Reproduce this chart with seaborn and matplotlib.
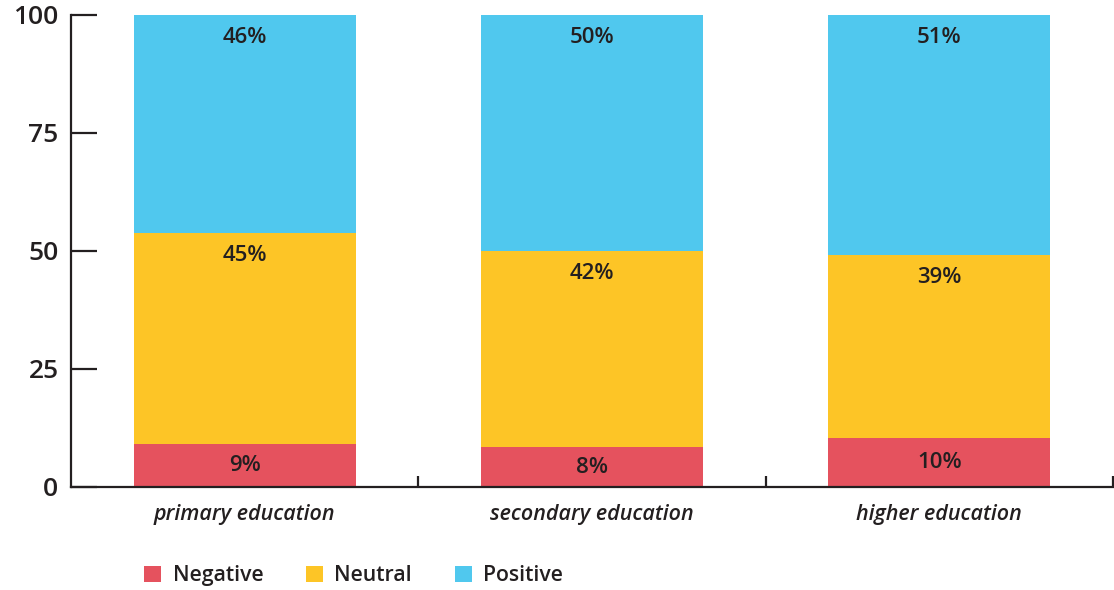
import matplotlib
matplotlib.use("Agg")
import matplotlib.pyplot as plt
from matplotlib.patches import Patch
import seaborn as sns
import pandas as pd

categories = ["primary education", "secondary education", "higher education"]
negative = [9.1, 8.4, 10.3]
neutral = [44.8, 41.6, 38.9]
positive = [46.1, 50.0, 50.8]

series_names = ["Negative", "Neutral", "Positive"]
colors = {"Negative": "#E5525E", "Neutral": "#FDC526", "Positive": "#50C8EE"}
text_color = "#231F20"

sns.set_style("white")
plt.rcParams["font.family"] = ["Open Sans", "DejaVu Sans"]

df = pd.DataFrame({
    "category": categories,
    "Negative": negative,
    "Neutral": neutral,
    "Positive": positive,
})
df["neg_top"] = df["Negative"]
df["neu_top"] = df["Negative"] + df["Neutral"]
df["pos_top"] = df["neu_top"] + df["Positive"]

fig = plt.figure(figsize=(11.14, 5.90), dpi=100)
ax = fig.add_axes([71 / 1114, 1 - 487 / 590, 1042 / 1114, 472 / 590])

# stacked bars: draw cumulative totals, tallest first
for col, name in [("pos_top", "Positive"), ("neu_top", "Neutral"), ("neg_top", "Negative")]:
    sns.barplot(data=df, x="category", y=col, color=colors[name],
                width=0.64, saturation=1, linewidth=0, ax=ax, order=categories)

# segment labels
for i, row in df.iterrows():
    bottoms = [0, row["neg_top"], row["neu_top"]]
    for name, b in zip(series_names, bottoms):
        v = row[name]
        y = b + v / 2 if name == "Negative" else b + v - 4.8
        ax.text(i, y, f"{round(v):.0f}%", ha="center", va="center",
                fontsize=16, fontweight="semibold", color=text_color)

ax.set_xlim(-0.5, 2.5)
ax.set_ylim(0, 100)
ax.set_yticks([0, 25, 50, 75, 100])
ax.set_xlabel("")
ax.set_ylabel("")
for s in ["top", "right"]:
    ax.spines[s].set_visible(False)
for s in ["left", "bottom"]:
    ax.spines[s].set_linewidth(1.6)
    ax.spines[s].set_color(text_color)

ax.tick_params(axis="y", left=True, direction="in", length=19, width=1.6,
               color=text_color, labelsize=19, labelcolor=text_color, pad=9)
for lbl in ax.get_yticklabels():
    lbl.set_fontweight("semibold")

ax.set_xticks([0, 1, 2])
ax.set_xticklabels(categories, fontsize=15.5, fontstyle="italic",
                   fontweight="semibold", color=text_color)
ax.tick_params(axis="x", which="major", bottom=False, length=0, pad=12)
ax.set_xticks([0.5, 1.5, 2.5], minor=True)
ax.tick_params(axis="x", which="minor", bottom=True, direction="in", length=8,
               width=1.6, color=text_color)

handles = [Patch(facecolor=colors[n], edgecolor="none", label=n) for n in series_names]
leg = fig.legend(handles=handles, loc="lower left", bbox_to_anchor=(0.112, -0.026),
                 ncol=3, frameon=False, fontsize=15.3, handlelength=0.8,
                 handleheight=0.8, handletextpad=0.55, columnspacing=2.0)
for t in leg.get_texts():
    t.set_color(text_color)
    t.set_fontweight("semibold")

fig.savefig("out.png", dpi=100)
